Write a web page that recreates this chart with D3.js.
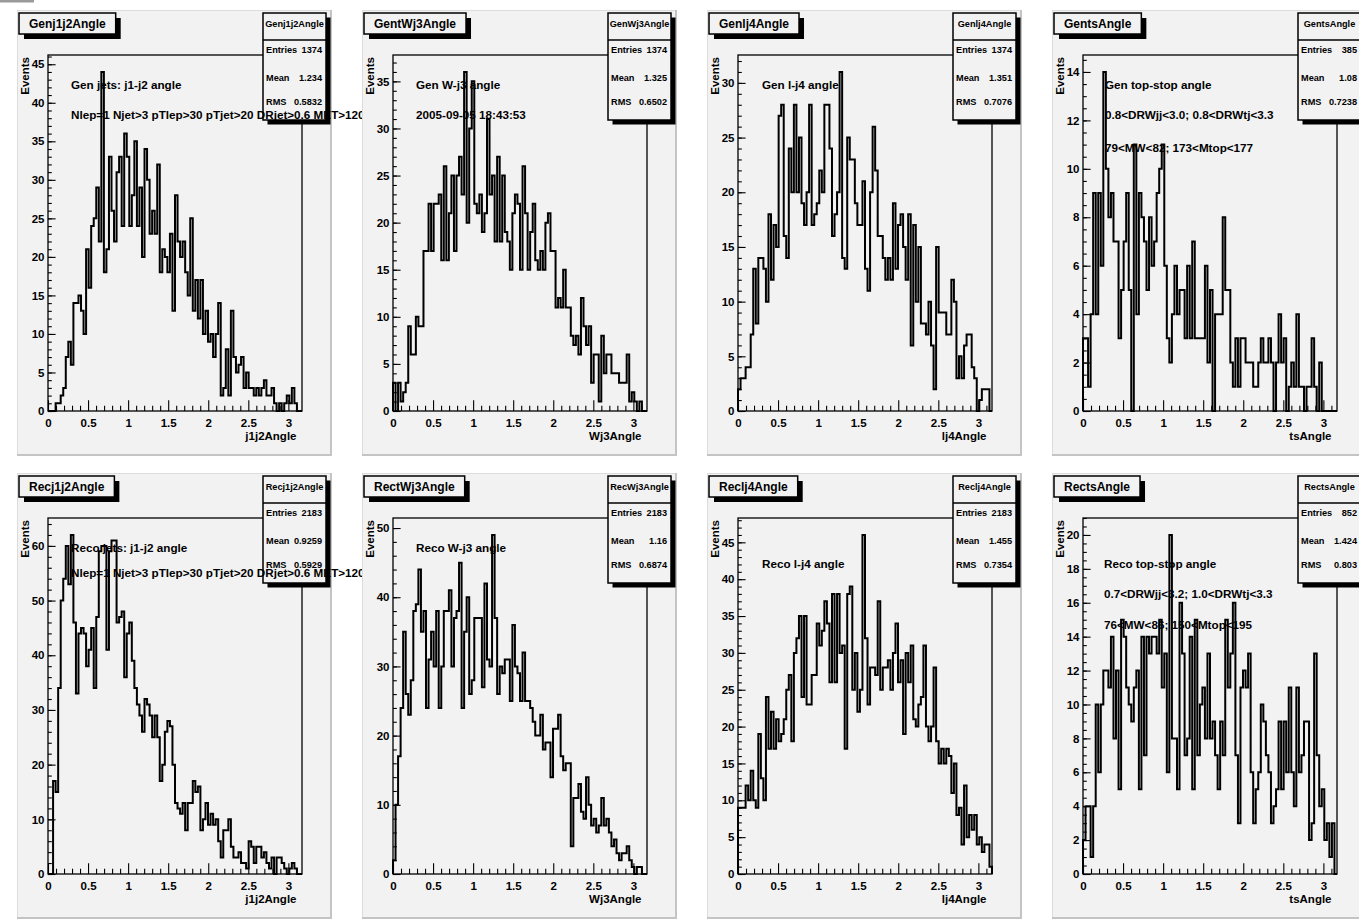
<!DOCTYPE html>
<html><head><meta charset="utf-8">
<script src="https://cdn.jsdelivr.net/npm/d3@7"></script>
<style>
html,body{margin:0;padding:0;background:#fff;}
svg{display:block;}
</style>
</head><body>
<svg id="c" width="1359" height="923"></svg>
<script>
// ---------------- data ----------------
const X_MIN = 0, X_MAX = 3.17, N_BINS = 100;
const xMajorTicks = [0, 0.5, 1, 1.5, 2, 2.5, 3];

const genJ1J2 = [0,0,0,1,1,2,3,7,9,6, 14,14,15,13,10,21,16,24,25,29, 22,44,18,21,33,26,22,31,33,24, 36,33,24,28,35,24,29,20,34,30, 23,26,23,32,18,21,20,18,23,13, 28,22,20,22,18,15,25,13,17,12, 17,10,13,9,10,7,10,14,2,3, 8,2,13,7,5,6,7,3,5,3, 3,2,3,2,3,4,2,2,3,1, 0,1,0,1,2,1,3,1,0,0];
const genWJ3 = [3,0,3,1,2,3,9,6,6,10, 9,9,17,17,22,17,22,22,23,16, 26,16,21,25,17,25,27,23,36,20, 30,35,22,21,23,19,21,31,23,25, 18,27,18,25,19,18,15,21,23,22, 15,26,21,15,19,22,16,15,17,15, 20,21,17,17,11,12,11,15,11,11, 8,7,8,6,12,9,7,9,3,6, 6,1,8,4,6,6,4,4,4,3, 3,3,6,1,2,1,0,1,0,0];
const genLJ4 = [2,3,3,4,4,7,13,8,14,14, 13,10,18,12,17,15,27,28,16,14, 24,20,28,20,25,19,17,20,28,17, 18,19,22,20,28,28,24,16,18,20, 31,14,13,25,23,23,19,17,17,21, 13,11,20,26,22,16,16,14,12,14, 12,19,13,17,18,15,12,18,6,17, 10,15,8,8,7,10,6,2,15,9, 9,9,7,7,12,10,3,5,3,6, 7,7,4,3,0,1,2,2,2,0];
const genTS = [3,3,1,4,9,4,9,6,14,10, 8,9,7,7,3,5,7,9,5,0, 11,4,9,8,7,5,8,6,7,9, 10,11,6,3,2,4,6,4,5,5, 3,6,3,7,3,3,3,3,6,2, 5,0,4,4,4,8,5,5,2,1, 3,1,3,3,2,2,2,1,1,2, 3,2,2,3,2,0,2,4,2,3, 0,1,2,1,4,1,1,0,1,1, 3,1,0,2,0,0,0,0,0,0];
const recJ1J2 = [0,0,17,15,34,50,54,60,53,62, 46,33,44,45,44,38,41,45,34,47, 59,60,60,41,59,61,61,46,47,48, 36,44,46,39,34,31,29,26,32,31, 29,25,29,25,17,20,26,28,27,20, 13,12,11,13,8,13,13,17,15,16, 8,10,13,9,11,9,10,6,3,8, 8,10,5,3,3,4,2,2,1,6, 5,2,5,5,3,4,2,1,3,0, 3,3,2,1,0,1,2,1,0,0];
const recWJ3 = [2,10,17,24,35,26,23,28,38,39, 44,35,38,24,31,35,30,38,24,30, 38,38,41,30,37,38,45,24,35,40, 26,28,37,37,37,27,42,31,30,49, 37,26,30,29,31,31,25,36,30,29, 25,32,25,25,24,22,20,20,23,18, 19,19,14,21,21,23,17,15,16,16, 4,11,11,13,9,8,14,10,7,8, 6,7,11,7,8,6,4,5,3,2, 3,3,4,2,1,0,1,1,0,0];
const recLJ4 = [9,9,9,12,10,14,10,9,19,13, 10,24,17,22,17,21,18,19,21,25, 27,18,30,32,35,24,35,23,23,27, 27,34,31,33,37,34,26,38,26,38, 30,31,17,38,39,25,30,22,25,46, 32,23,28,28,27,37,25,28,28,29, 25,30,34,26,29,19,30,26,31,21, 20,23,24,31,20,18,20,28,18,15, 17,15,17,16,11,15,8,9,4,12, 5,8,6,8,4,5,3,4,4,1];
const recTS = [2,4,4,1,4,10,6,10,12,12, 11,14,8,12,5,15,14,11,10,9, 11,12,5,14,7,14,13,14,14,13, 15,11,13,6,20,8,8,5,16,13, 7,8,14,5,15,7,10,11,8,13, 8,9,7,5,9,7,15,11,13,16, 7,3,11,12,11,13,6,3,5,6, 10,9,7,6,3,4,5,9,5,9, 6,11,6,4,11,6,7,9,9,2, 3,13,7,4,5,2,3,1,3,0];

const histTitles = ["Genj1j2Angle","GentWj3Angle","Genlj4Angle","GentsAngle","Recj1j2Angle","RectWj3Angle","Reclj4Angle","RectsAngle"];
const statNames = ["Genj1j2Angle","GenWj3Angle","Genlj4Angle","GentsAngle","Recj1j2Angle","RecWj3Angle","Reclj4Angle","RectsAngle"];
const entries = ["1374","1374","1374","385","2183","2183","2183","852"];
const means = ["1.234","1.325","1.351","1.08","0.9259","1.16","1.455","1.424"];
const rmsValues = ["0.5832","0.6502","0.7076","0.7238","0.5929","0.6874","0.7354","0.803"];
const xTitles = ["j1j2Angle","Wj3Angle","lj4Angle","tsAngle","j1j2Angle","Wj3Angle","lj4Angle","tsAngle"];
const yTitle = "Events";
const yMajorStep = [5,5,5,2,10,10,5,2];
const yMinorStep = [1,1,1,0.5,2,2,1,0.5];
const noteLines = [
  ["Gen jets: j1-j2 angle","Nlep=1 Njet>3 pTlep>30 pTjet>20 DRjet>0.6 MET>120"],
  ["Gen W-j3 angle","2005-09-05 18:43:53"],
  ["Gen l-j4 angle"],
  ["Gen top-stop angle","0.8<DRWjj<3.0; 0.8<DRWtj<3.3","79<MW<82; 173<Mtop<177"],
  ["Reco jets: j1-j2 angle","Nlep=1 Njet>3 pTlep>30 pTjet>20 DRjet>0.6 MET>120"],
  ["Reco W-j3 angle"],
  ["Reco l-j4 angle"],
  ["Reco top-stop angle","0.7<DRWjj<3.2; 1.0<DRWtj<3.3","76<MW<86; 150<Mtop<195"]
];
const series = [genJ1J2, genWJ3, genLJ4, genTS, recJ1J2, recWJ3, recLJ4, recTS];

// ---------------- layout ----------------
const FONT = "'Liberation Sans', Arial, Helvetica, sans-serif";
const PAD = {x0:17, y0:10, dx:345, dy:463, w:315, h:446};
const FR = {l:31, r:285, t:45, b:401};
const noteX = [54,54,55,53,54,54,55,52];
const noteY = [[75,105],[75,105],[75],[75,105,138],[75,100],[75],[91],[91,121,152]];
const statRowY = [40, 67.5, 92];
const padFill = "#f2f2f2";

const svg = d3.select("#c").attr("font-family", FONT).attr("font-weight", "bold");
svg.append("rect").attr("width",1359).attr("height",923).attr("fill","#fff");
svg.append("rect").attr("x",0).attr("y",0).attr("width",34).attr("height",2.5).attr("fill","#9a9a9a");

series.forEach((counts, i) => {
  const col = i % 4, row = Math.floor(i / 4);
  const L = PAD.x0 + col * PAD.dx, T = PAD.y0 + row * PAD.dy;
  const g = svg.append("g");

  // pad
  g.append("rect").attr("x",L).attr("y",T).attr("width",PAD.w).attr("height",PAD.h).attr("fill",padFill);
  g.append("line").attr("x1",L+0.5).attr("x2",L+0.5).attr("y1",T).attr("y2",T+PAD.h).attr("stroke","#dcdcdc");
  g.append("line").attr("x1",L).attr("x2",L+PAD.w).attr("y1",T+0.5).attr("y2",T+0.5).attr("stroke","#dcdcdc");
  g.append("line").attr("x1",L+PAD.w-1).attr("x2",L+PAD.w-1).attr("y1",T).attr("y2",T+PAD.h).attr("stroke","#c4c4c4").attr("stroke-width",2);
  g.append("line").attr("x1",L).attr("x2",L+PAD.w).attr("y1",T+PAD.h-1).attr("y2",T+PAD.h-1).attr("stroke","#c4c4c4").attr("stroke-width",2);

  const fx0 = L + FR.l, fx1 = L + FR.r, fy0 = T + FR.t, fy1 = T + FR.b;
  const yMax = d3.max(counts) * 1.05;
  const x = d3.scaleLinear().domain([X_MIN, X_MAX]).range([fx0, fx1]);
  const y = d3.scaleLinear().domain([0, yMax]).range([fy1, fy0]);

  // histogram outline
  const bw = (X_MAX - X_MIN) / N_BINS;
  const pts = [[x(X_MIN), y(0)]];
  counts.forEach((v, k) => {
    pts.push([x(X_MIN + k * bw), y(v)]);
    pts.push([x(X_MIN + (k + 1) * bw), y(v)]);
  });
  pts.push([x(X_MAX), y(0)]);
  g.append("path").attr("d", d3.line()(pts)).attr("fill","none")
    .attr("stroke","#000").attr("stroke-width",2).attr("stroke-linejoin","miter");

  // x axis
  const xMinor = d3.range(0, X_MAX, 0.1).filter(v => Math.abs(v*2 - Math.round(v*2)) > 1e-6);
  const gxm = g.append("g").attr("transform",`translate(0,${fy1})`)
    .call(d3.axisBottom(x).tickValues(xMinor).tickSize(-5.3).tickSizeOuter(0).tickFormat(""));
  const gx = g.append("g").attr("transform",`translate(0,${fy1})`)
    .call(d3.axisBottom(x).tickValues(xMajorTicks).tickSize(-10.7).tickSizeOuter(0).tickPadding(8).tickFormat(d3.format("~g")));
  // y axis
  const yMaj = d3.range(0, yMax + 1e-9, yMajorStep[i]);
  const yMin = d3.range(0, yMax + 1e-9, yMinorStep[i]);
  const gym = g.append("g").attr("transform",`translate(${fx0},0)`)
    .call(d3.axisLeft(y).tickValues(yMin).tickSize(-3.8).tickSizeOuter(0).tickFormat(""));
  const gy = g.append("g").attr("transform",`translate(${fx0},0)`)
    .call(d3.axisLeft(y).tickValues(yMaj).tickSize(-7.6).tickSizeOuter(0).tickPadding(3.5).tickFormat(d3.format("d")));
  [gxm, gx, gym, gy].forEach(a => {
    a.select(".domain").remove();
    a.attr("font-family", FONT).attr("font-size", 11.5).attr("font-weight","bold");
    a.selectAll("line").attr("stroke","#000").attr("stroke-width",1.1);
    a.selectAll("text").attr("fill","#000");
  });

  // frame
  g.append("rect").attr("x",fx0).attr("y",fy0).attr("width",fx1-fx0).attr("height",fy1-fy0)
    .attr("fill","none").attr("stroke","#000").attr("stroke-width",1.3);

  // axis titles
  g.append("text").attr("x", fx1 - 5.5).attr("y", fy1 + 29).attr("text-anchor","end")
    .attr("font-size",11.5).text(xTitles[i]);
  g.append("text").attr("transform",`translate(${L+11.5},${fy0+2}) rotate(-90)`).attr("text-anchor","end")
    .attr("font-size",11.5).text(yTitle);

  // title box
  const tb = g.append("g");
  const tShadow = tb.append("rect"), tBox = tb.append("rect");
  const tt = tb.append("text").attr("font-size",12).attr("text-anchor","middle").text(histTitles[i]);
  const tw = tt.node().getComputedTextLength() + 20;
  const tbx = L + 2, tby = T + 3, tbh = 21;
  tShadow.attr("x",tbx+5).attr("y",tby+5).attr("width",tw).attr("height",tbh).attr("fill","#000");
  tBox.attr("x",tbx).attr("y",tby).attr("width",tw).attr("height",tbh).attr("fill",padFill).attr("stroke","#000").attr("stroke-width",1.5);
  tt.attr("x", tbx + tw/2).attr("y", tby + 14.8);

  // stats box
  const sx = L + 246, sy = T + 3, sw = 63, sh = 107;
  g.append("rect").attr("x",sx+4.5).attr("y",sy+4.5).attr("width",sw).attr("height",sh).attr("fill","#000");
  g.append("rect").attr("x",sx).attr("y",sy).attr("width",sw).attr("height",sh).attr("fill",padFill).attr("stroke","#000").attr("stroke-width",1.5);
  g.append("line").attr("x1",sx).attr("x2",sx+sw).attr("y1",T+30).attr("y2",T+30).attr("stroke","#000").attr("stroke-width",1.5);
  g.append("text").attr("x",sx+sw/2).attr("y",T+17.3).attr("text-anchor","middle").attr("font-size",9.2).text(statNames[i]);
  const rows = [["Entries", entries[i]], ["Mean", means[i]], ["RMS", rmsValues[i]]];
  rows.forEach((r, k) => {
    g.append("text").attr("x",sx+3).attr("y",T+statRowY[k]+3.2).attr("font-size",9.2).text(r[0]);
    g.append("text").attr("x",sx+sw-4).attr("y",T+statRowY[k]+3.2).attr("text-anchor","end").attr("font-size",9.2).text(r[1]);
  });

  // notes
  noteLines[i].forEach((s, k) => {
    g.append("text").attr("x", L + noteX[i]).attr("y", T + noteY[i][k] + 4.2)
      .attr("font-size", 11.7).attr("fill","#000").text(s);
  });
});
</script>
</body></html>
